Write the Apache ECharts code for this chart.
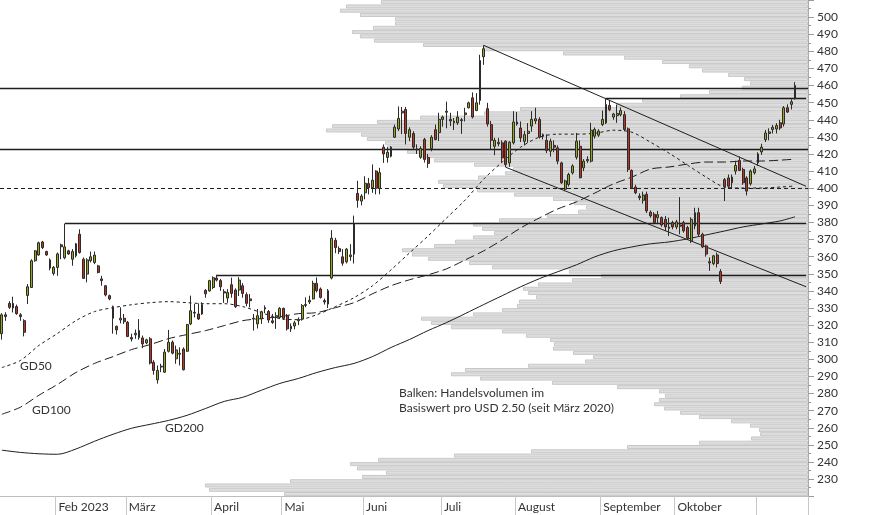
<!DOCTYPE html>
<html><head><meta charset="utf-8">
<script src="https://cdn.jsdelivr.net/npm/echarts@6/dist/echarts.min.js"></script>
<style>html,body{margin:0;padding:0;background:#fff}#c{width:874px;height:515px}</style>
</head><body><div id="c"></div>
<script>
// ---------- categories (trading days) ----------
const HOLIDAYS = ['2023-01-16','2023-02-20','2023-04-07','2023-05-29','2023-06-19','2023-07-04','2023-09-04'];
function buildDays(){const out=[];const d=new Date(Date.UTC(2023,0,10));const end=Date.UTC(2023,10,15);
  while(d.getTime()<=end){const wd=d.getUTCDay();const s=d.toISOString().slice(0,10);
    if(wd!==0&&wd!==6&&HOLIDAYS.indexOf(s)<0)out.push(s);d.setUTCDate(d.getUTCDate()+1);}return out;}
const dates = buildDays();
const padCats = ['p1','p2','p3'];
const categories = dates.concat(padCats);
const MONTH_LABELS = {'02':'Feb 2023','03':'März','04':'April','05':'Mai','06':'Juni','07':'Juli','08':'August','09':'September','10':'Oktober'};

// ---------- OHLC ----------
const openP = [315,326,332.7,330,330.8,326,322.6,337.3,342,357.6,
361,368.6,363,358.1,350.2,353.7,366.9,359.3,363.4,358.5,
360.5,373.1,358.5,349.8,357.6,356.6,354.6,347,343,337.2,
330.8,319.3,323,324,321.6,312.7,314.3,316.8,312.5,309.6,
312,298.3,288,295.5,292.5,304.7,310,300.3,303.5,306,
304.7,320.7,327.5,326.5,326.5,340.3,340,342,347.5,346,
339.5,335.8,343.6,340.5,340.5,343,337.8,335.3,324,320.7,
323.6,329.4,328,322.5,324.5,324.5,329.8,325.5,317.8,319.5,
322.6,323.6,331.5,333.5,335.3,344.4,341.1,334.3,332.3,347.5,
369.6,364.7,359.9,357,360,361.5,397,392.5,397.3,402.7,
400.3,410,399.9,424,418,418.7,429.8,434.6,444,446,
429.8,432,423,418.1,428.5,418,423.2,434.2,432.5,440.2,
444.4,440.2,438.2,438.2,440,443,447,452.8,445.4,451.3,
476.8,446.5,437.2,424.5,426,426.5,427.5,414.8,426.5,437.5,
435.2,427.4,432,436.3,439.3,440.2,430.4,428,421.6,425,
423.6,414.8,399.4,402.2,409,418.1,424.5,411.9,416,415.8,
430.4,431,437.2,438.2,448.4,441.6,442.4,443,443,434.7,
410.4,400.7,395.4,392.9,396.4,386,384.8,382.8,382.8,381.8,
376.5,379.9,377.4,378.5,379.9,377,369.2,377.9,385.7,373.1,
366.3,357,356,361,351.3,405,406,403.2,410,416.2,
411,406,402.6,409,414.8,421.2,428.4,432,434.3,434.6,
438.2,437.5,447,449,452.3];
const closeP = [326,325,330.4,332.7,326.7,325,315.8,342.4,357.6,363.4,
368.1,365.3,361,353.3,353.7,361.6,365.8,365.7,361.6,363,
367.5,362.4,347.3,358.1,359.9,360.9,350.8,346,337.6,335.3,
324,317.2,324,322,313.3,311.9,315.2,312.7,309,311.4,
297.8,293.5,293.5,296,304.2,310,303.6,305.5,303,293.9,
320.3,328.4,327,323.6,332,338.3,346,347.7,346.3,342.4,
338.8,339.1,338.5,330.8,346.3,338.5,332.7,334.3,323.5,325.5,
327.8,330.2,323,321.5,325.5,329.8,324,317.8,319.3,321.3,
323.4,331.4,332,334.5,344.4,340.1,336.2,333.5,340.1,370.8,
365.3,363,356.2,364.4,361,379.1,392.9,395.4,402.9,400.3,
404.7,400,409.1,420,421,424,435.7,440.8,445,432,
434.2,424,422.3,423.2,416.8,414.5,429.8,428.5,440.2,441.6,
445,439.3,439.2,441.6,439.5,444,449.9,441.6,449.9,474.6,
481.5,437.5,428,428,426.8,417.7,413.9,426.9,438.7,438.7,
429.4,431.3,433.3,440.2,440.6,429.8,431.3,422,427.5,424,
415.8,403.2,404.3,408,413,427.5,406.1,415.8,416.8,433.9,
434.4,433.4,440.2,448.9,445.9,443.4,443.7,445.4,434.3,411,
400.3,397.4,394.4,396,386.7,383.8,379.9,384.5,378.5,377.4,
377.3,377.4,380.3,377.8,375.1,371,381.8,385.7,373.1,365.7,
361.5,356.3,360.5,356,345.5,401,401.2,406.5,413.3,410.4,
403.2,398.3,410,411.3,420,424,432.3,432.9,435.6,436.6,
435.2,447,444.5,450.5,460];
const lowP = [311.5,322.5,329.4,327.4,326,322.5,313.4,332.3,341.7,357,
360.5,364.4,360.5,352,349,348.8,358.5,358.5,361,354.7,
359.5,361.8,347,345,356.6,355.6,350.2,343,336.8,334.5,
315,314.5,321,320.7,313,310.4,312,311.5,306.5,308.8,
297,291,285.8,292.5,292,304,302.9,297.4,296.4,293.5,
304.4,320,324.5,323,326,336,339.5,341,345.5,340,
333,333,336,330,337,336,331,330.4,316.8,318,
320.7,327,321.3,320.7,317.8,323.5,323,316.8,316,317.5,
320,322.6,330.4,332.3,335,339.1,335.5,332,330,346.7,
362,361.5,354.7,356,357.6,356,388.6,390,393.5,396.4,
397.3,396.4,396.4,414.8,415,418,429.4,433.4,431.6,425.6,
427.5,422.6,420,417.2,415,411.9,421.6,428,427.6,436,
435,436.3,434,437,431.8,439,446.6,440.8,445,448.8,
472.1,436,422.6,419.3,424.5,415,412.2,412.5,425.6,436.5,
427,425,426.5,433,437.5,429,428.5,420.5,418.5,421,
414,402.5,398.3,401,408,416.8,405.8,410,414.8,415,
429,430,436.3,437.5,445,440,438.2,442,433.3,409.5,
399.5,396.5,393,391,385.5,382.8,379,379,377.5,375,
372.1,376,376,373.1,374,370,368,376,372.1,365,
360,351.7,355,353.7,344,392.5,400,400,408,410,
402,395.8,401.5,408,413,419.5,427,428,432,432,
434,436,444,446,451.8];
const highP = [327,327.5,334,336.6,332,327,323.4,344,358.5,363.8,
368.8,369.2,363.5,359,354.5,362.4,367.6,379.3,364,364.4,
368,376,359.5,359.1,363,363,355.2,348.8,343.4,337.8,
331.4,319.7,330.4,326.5,322.4,315,317.4,323.5,313.9,312,
313,299.5,296.4,297.4,306,317.2,311,308,307,307,
320.7,337.2,332.3,332.7,333.3,341,346.5,348.5,349.4,347,
341,341,347.7,341.5,348,344.5,339.1,338.2,326.5,329.4,
328.4,331.5,328.8,326.5,327.5,330.5,330.2,326.5,321,322.5,
324.5,332.3,336.2,337.2,345.9,347.8,342,335.5,341.1,375.5,
371,366,364.4,365,367.3,384,404.3,396.5,407,406,
413.9,410.5,411.9,425.6,424,424.6,437.2,447.8,447.5,447.5,
435.6,433.3,425.6,424.5,429.4,420,431,437.2,444.1,442.5,
450.6,444.1,441,445,441,447,450.6,456,455.6,478,
483.5,449.9,439.3,429.4,429.4,428,428,427.5,445,444.5,
439,433.5,438.1,445,447,441.5,432,431.5,429,428,
425,415.5,405,409,414,432.3,428,417,418.7,438.2,
435.5,434.5,445.4,452.8,451.5,444,448.9,447.2,445,435.5,
411,402,397,398,398,387,386,386.7,383.5,383.8,
382.8,381,381.5,394.8,381,378,383,388.6,388.6,374,
367,359.5,361,362.4,352.7,406,408,408,416,418.5,
412,407,411,413,421,426,434,435,437,438,
440,448,449,452,462];

// ---------- moving averages (sampled days) ----------
const maIdx = [0,5,10,15,20,25,30,35,40,45,50,55,60,65,70,75,80,85,90,95,100,105,110,115,120,125,130,135,140,145,150,155,160,165,170,175,180,185,190,195,200,205,210,214];
const gd50 = [295.2,299.3,308.1,315.1,322.6,327.9,330.2,331.9,333.1,333.7,333.1,332.5,332.5,330.8,327.3,323.8,323.2,326.1,330.8,336.0,343.0,352.3,362.2,372.1,382.6,393.1,405.3,415.3,424.0,429.8,431.6,431.6,432.1,433.9,432.7,426.9,420.5,413.5,406.5,400.7,400.1,400.1,400.7,401.3];
const gd100 = [267.9,272.0,279.0,285.3,292.3,297.6,301.6,305.7,308.6,312.1,314.5,316.8,319.7,322.6,323.8,324.9,326.7,327.3,330.2,333.1,338.3,343.0,346.5,349.4,352.9,358.1,363.4,369.8,376.8,382.6,387.9,392.0,397.2,402.5,406.5,411.2,412.4,414.1,415.3,415.3,415.9,415.9,416.4,417.0];
const gd200 = [246.9,245.6,244.8,244.5,247.6,252.1,256.2,259.7,262.0,264.3,267.3,271.3,275.4,277.8,281.9,285.9,288.8,292.3,295.2,297.6,301.6,306.9,311.6,316.8,321.5,326.7,332.0,337.2,342.4,347.1,351.2,355.2,359.9,363.4,365.7,367.5,368.6,370.4,372.7,375.0,377.4,379.1,380.9,383.3];

// ---------- volume profile (USD 2.50 buckets from 220, relative volume) ----------
const volumeProfile = [524,599,603,518,446,422,451,458,430,354,
277,181,109,57,48,49,58,77,109,128,
144,154,149,143,149,191,256,328,357,343,
280,223,215,235,255,254,258,282,306,
357,377,387,335,306,291,289,272,280,285,
270,236,207,239,316,339,380,396,406,374,
353,335,314,326,335,309,261,230,222,234,
255,294,331,365,370,330,303,295,
334,374,388,401,421,423,441,447,482,476,
431,388,324,288,191,166,128,99,66,58,
64,80,106,119,146,184,245,325,385,434,
448,456,435,413,413,448,468,462,427];
const buckets = volumeProfile.map((_, i) => (220 + 2.5 * i).toFixed(1));

// ---------- levels & trend lines ----------
const hLevels = [458.4, 422.8];
const dashedLevel = 400;
const partialLevels = [[17, 379.3], [58, 349.4], [163, 452.7]];
const trendLines = [[130, 483.5, 401.1], [136, 412.2, 342.4]];

const FONT = 'Lato';
function isMonthStart(i){ return i > 0 && i < dates.length && dates[i].slice(5,7) !== dates[i-1].slice(5,7); }

const chart = echarts.init(document.getElementById('c'), null, {renderer: 'canvas'});
const lastCat = padCats[padCats.length - 1];
const lineCol = '#1e1e1e';
const markData = [];
hLevels.forEach(v => markData.push({yAxis: v}));
markData.push({yAxis: dashedLevel, lineStyle: {type: [4, 3], width: 1.2, color: lineCol}});
partialLevels.forEach(p => markData.push([{coord: [dates[p[0]], p[1]]}, {coord: [lastCat, p[1]]}]));
trendLines.forEach(t => markData.push([{coord: [dates[t[0]], t[1]], lineStyle: {width: 1, color: lineCol}}, {coord: [lastCat, t[2]]}]));

function maSeries(name, vals, type, extra) {
  return Object.assign({
    name, type: 'line', xAxisIndex: 0, yAxisIndex: 0,
    data: maIdx.map((k, i) => [dates[k], vals[i]]),
    showSymbol: false, symbol: 'none', smooth: 0.3, silent: true, z: 3,
    lineStyle: {color: lineCol, width: 1, type: type}
  }, extra || {});
}

const option = {
  animation: false,
  backgroundColor: '#fff',
  grid: [
    {left: -1.7, right: 66, top: -2.2, bottom: 18.8},
    {left: 0, right: 66, top: -2.2, bottom: 18.8}
  ],
  xAxis: [
    {type: 'category', gridIndex: 0, data: categories, boundaryGap: true,
     axisLine: {show: true, lineStyle: {color: '#bdbdbd', width: 1}},
     axisTick: {show: true, interval: (i) => isMonthStart(i), length: 20, lineStyle: {color: '#c8c8c8'}},
     axisLabel: {show: true, interval: (i) => isMonthStart(i) && !!MONTH_LABELS[dates[i].slice(5,7)],
       formatter: (v) => MONTH_LABELS[String(v).slice(5,7)] || '',
       align: 'left', margin: 5, padding: [0,0,0,1], color: '#333', fontSize: 12, fontFamily: FONT},
     splitLine: {show: false}},
    {type: 'value', gridIndex: 1, inverse: true, min: 0, max: 808, show: false}
  ],
  yAxis: [
    {type: 'value', gridIndex: 0, position: 'right', min: 220, max: 510, interval: 10, scale: false,
     axisLine: {show: true, lineStyle: {color: '#aaaaaa'}},
     axisTick: {show: true, length: 6, lineStyle: {color: '#999'}},
     minorTick: {show: true, splitNumber: 2, length: 3, lineStyle: {color: '#999'}},
     axisLabel: {show: true, margin: 9, color: '#333', fontSize: 12, fontFamily: FONT, showMinLabel: false, showMaxLabel: false},
     splitLine: {show: false}},
    {type: 'category', gridIndex: 1, data: buckets, show: false, boundaryGap: true}
  ],
  series: [
    {name: 'Volumen', type: 'bar', xAxisIndex: 1, yAxisIndex: 1, data: volumeProfile,
     barCategoryGap: '8%', silent: true, z: 1,
     itemStyle: {color: '#dedede', borderColor: '#c4c4c4', borderWidth: 0.9}},
    maSeries('GD50', gd50, [3, 3]),
    maSeries('GD100', gd100, [9, 4]),
    maSeries('GD200', gd200, 'solid', {
      markLine: {silent: true, symbol: ['none', 'none'], animation: false, label: {show: false},
        lineStyle: {color: lineCol, width: 1.3, type: 'solid'}, data: markData}
    }),
    {name: 'Kurs', type: 'candlestick', xAxisIndex: 0, yAxisIndex: 0, z: 5, silent: true,
     data: dates.map((d, i) => [openP[i], closeP[i], lowP[i], highP[i]]),
     barWidth: 2.4,
     itemStyle: {color: '#98a812', color0: '#c2331f', borderColor: '#2b2b2b', borderColor0: '#2b2b2b', borderWidth: 1}}
  ],
  graphic: [
    {type: 'text', left: 20, top: 360, silent: true, style: {text: 'GD50', fill: '#333', font: '12px ' + FONT}},
    {type: 'text', left: 32, top: 404, silent: true, style: {text: 'GD100', fill: '#333', font: '12px ' + FONT}},
    {type: 'text', left: 165, top: 422, silent: true, style: {text: 'GD200', fill: '#333', font: '12px ' + FONT}},
    {type: 'text', left: 399, top: 386, silent: true, style: {text: 'Balken: Handelsvolumen im\nBasiswert pro USD 2.50 (seit März 2020)', fill: '#333', font: '12px ' + FONT, lineHeight: 15}}
  ]
};
chart.setOption(option);
</script></body></html>
